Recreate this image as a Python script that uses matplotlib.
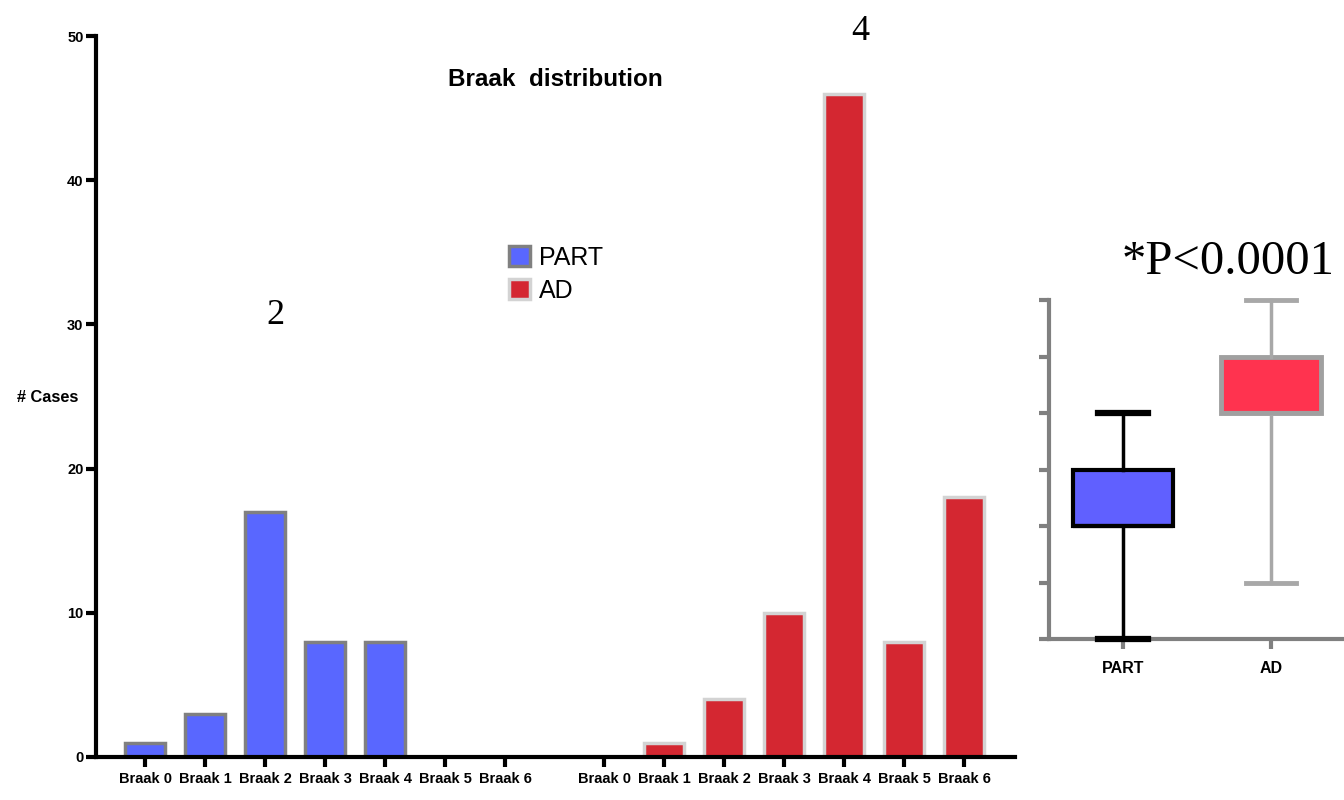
import matplotlib
matplotlib.use("Agg")
import matplotlib.pyplot as plt
from matplotlib.patches import Patch

# ---- data ----
stages = ["Braak 0", "Braak 1", "Braak 2", "Braak 3", "Braak 4", "Braak 5", "Braak 6"]
part_counts = [1, 3, 17, 8, 8, 0, 0]
ad_counts = [0, 1, 4, 10, 46, 8, 18]
y_ticks = [0, 10, 20, 30, 40, 50]

box_groups = ["PART", "AD"]
part_box = dict(whislo=0, q1=2, med=2, q3=3, whishi=4)
ad_box = dict(whislo=1, q1=4, med=4, q3=5, whishi=6)

SANS = ["Liberation Sans", "DejaVu Sans"]
SERIF = ["Liberation Serif", "DejaVu Serif"]

blue = "#5967ff"
blue_edge = "#808080"
red = "#d42731"
red_edge = "#d3d3d3"

fig = plt.figure(figsize=(13.44, 8), dpi=100)

# ---- main bar chart ----
ax = fig.add_axes([96/1344, 43/800, (1015-96)/1344, (757-36)/800])
n = len(stages)
gap = 7.65
x1 = list(range(n))
x2 = [gap + i for i in range(n)]
ax.bar(x1, part_counts, width=0.67, color=blue, edgecolor=blue_edge, linewidth=2.5)
ax.bar(x2, ad_counts, width=0.67, color=red, edgecolor=red_edge, linewidth=2.5)
ax.set_xlim(-0.82, gap + n - 1 + 0.85)
ax.set_ylim(0, 50)
ax.set_xticks(x1 + x2)
ax.set_xticklabels(stages + stages, family=SANS, fontweight="bold", fontsize=10.5)
ax.set_yticks(y_ticks)
ax.set_yticklabels([str(v) for v in y_ticks], family=SANS, fontweight="bold", fontsize=10.5)
for s in ["top", "right"]:
    ax.spines[s].set_visible(False)
for s in ["left", "bottom"]:
    ax.spines[s].set_linewidth(3)
ax.tick_params(axis="both", width=3, length=7, direction="out", pad=2)
ax.tick_params(axis="x", pad=4)

fig.text(48/1344, 1 - 397/800, "# Cases", family=SANS, fontweight="bold",
         fontsize=11.8, ha="center", va="center")
fig.text(555/1344, 1 - 80/800, "Braak  distribution", family=SANS, fontweight="bold",
         fontsize=17.5, ha="center", va="center")
fig.text(275/1344, 1 - 315/800, "2", family=SERIF, fontsize=26, ha="center", va="center")
fig.text(860/1344, 1 - 32/800, "4", family=SERIF, fontsize=26, ha="center", va="center")

handles = [Patch(facecolor=blue, edgecolor=blue_edge, linewidth=2.5, label="PART"),
           Patch(facecolor=red, edgecolor=red_edge, linewidth=2.5, label="AD")]
fig.legend(handles=handles, loc="upper left", bbox_to_anchor=(499/1344, 1 - 236/800),
           frameon=False, prop=dict(family=SANS, size=18), handlelength=0.85,
           handleheight=0.85, handletextpad=0.35, labelspacing=0.35, borderaxespad=0)

# ---- box plot ----
bx = fig.add_axes([1049/1344, 161/800, (1344-1049)/1344, (639-300)/800])
stats_part = dict(part_box, label=box_groups[0])
stats_ad = dict(ad_box, label=box_groups[1])
r1 = bx.bxp([stats_part], positions=[1], widths=0.676, showfliers=False, patch_artist=True,
            boxprops=dict(facecolor="#6060ff", edgecolor="black", linewidth=3),
            medianprops=dict(color="black", linewidth=3),
            whiskerprops=dict(color="black", linewidth=2.5),
            capprops=dict(color="black", linewidth=4.5), capwidths=0.34)
r2 = bx.bxp([stats_ad], positions=[2], widths=0.676, showfliers=False, patch_artist=True,
            boxprops=dict(facecolor="#ff334f", edgecolor="#a0a0a0", linewidth=3.5),
            medianprops=dict(color="#a0a0a0", linewidth=3),
            whiskerprops=dict(color="#a8a8a8", linewidth=2.5),
            capprops=dict(color="#a8a8a8", linewidth=3.5), capwidths=0.34)
for r in (r1, r2):
    for key, arts in r.items():
        for a in arts:
            a.set_clip_on(False)
            a.set_zorder(5)
bx.set_xlim(0.5, 0.5 + 295/148)
bx.set_ylim(0, 6)
bx.set_yticks(range(7))
bx.set_yticklabels([])
bx.set_xticks([1, 2])
bx.set_xticklabels(box_groups, family=SANS, fontweight="bold", fontsize=11.5)
for s in ["top", "right"]:
    bx.spines[s].set_visible(False)
for s in ["left", "bottom"]:
    bx.spines[s].set_linewidth(3)
    bx.spines[s].set_color("#808080")
bx.tick_params(axis="both", color="#808080", width=3, length=7, pad=9)
bx.set_facecolor("none")
fig.text(1228/1344, 1 - 262/800, "*P<0.0001", family=SERIF, fontsize=35,
         ha="center", va="center")

fig.savefig("out.png", dpi=100)
